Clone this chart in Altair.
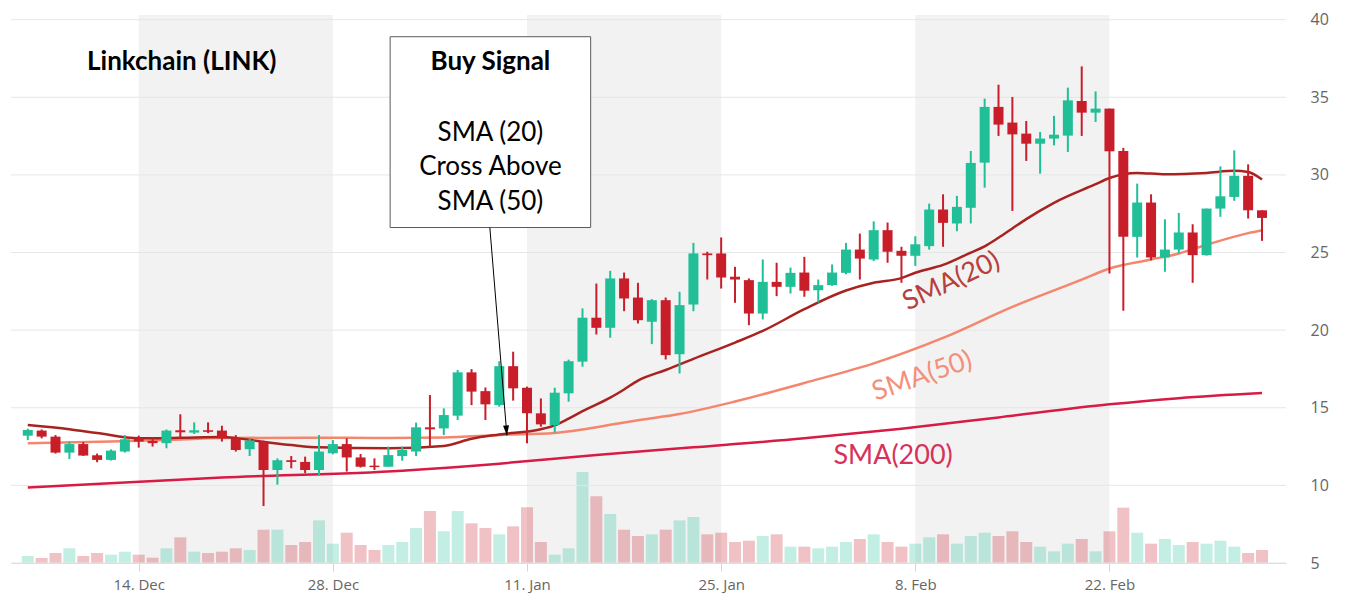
import altair as alt
import pandas as pd

# ---------------- data ----------------
start_date = "2020-12-06"
n_days = 90

opens = [13.20, 13.53, 13.14, 12.11, 12.66, 11.94, 11.64, 12.18, 13.03, 12.87,
         12.72, 13.55, 13.40, 13.55, 13.53, 13.03, 12.33, 12.82, 10.99, 11.62,
         11.51, 10.99, 12.07, 12.66, 11.80, 11.27, 11.20, 11.89, 12.18, 13.74,
         13.67, 14.49, 17.28, 16.07, 15.17, 17.68, 16.29, 14.64, 13.89, 15.93,
         17.97, 20.80, 20.15, 23.33, 22.10, 20.54, 21.93, 18.45, 21.65, 24.94,
         24.94, 23.44, 23.22, 21.07, 23.11, 22.79, 23.71, 22.57, 22.90, 23.69,
         25.19, 24.55, 26.44, 25.11, 24.79, 25.41, 27.77, 26.87, 27.88, 30.79,
         34.38, 33.37, 32.66, 32.01, 32.34, 32.53, 34.76, 34.01, 34.27, 31.54,
         26.01, 28.22, 24.68, 25.19, 26.29, 24.83, 27.83, 28.58, 29.94, 27.72]
highs = [13.65, 13.60, 13.24, 12.82, 12.79, 12.05, 12.32, 13.24, 13.21, 13.11,
         13.60, 14.58, 14.06, 14.06, 13.84, 13.24, 13.00, 12.89, 11.74, 11.89,
         11.85, 13.24, 12.92, 13.03, 12.02, 11.74, 12.50, 12.50, 14.04, 15.82,
         14.96, 17.43, 17.49, 16.31, 18.00, 18.61, 16.36, 15.60, 16.29, 18.10,
         21.40, 23.00, 23.82, 23.71, 23.05, 22.00, 22.10, 22.47, 25.62, 25.05,
         25.97, 24.08, 23.33, 24.55, 24.34, 24.03, 24.72, 23.26, 24.23, 25.62,
         26.22, 27.01, 26.93, 25.37, 26.05, 28.15, 28.75, 28.65, 31.54, 34.91,
         35.81, 35.02, 33.47, 32.77, 33.80, 35.62, 36.99, 35.38, 34.27, 31.74,
         29.44, 28.75, 27.14, 27.55, 26.82, 27.83, 30.55, 31.58, 30.68, 27.72]
lows = [12.92, 13.03, 12.05, 11.70, 11.90, 11.49, 11.60, 12.11, 12.43, 12.50,
        12.39, 13.03, 13.31, 13.37, 12.82, 12.18, 11.89, 8.67, 10.05, 11.10,
        10.78, 10.61, 12.00, 10.89, 11.15, 10.99, 11.20, 11.59, 11.89, 12.50,
        13.24, 14.21, 15.17, 14.21, 15.07, 15.46, 12.71, 13.78, 13.40, 15.39,
        17.64, 19.72, 19.51, 21.22, 20.43, 19.10, 18.11, 17.21, 21.22, 23.26,
        22.68, 21.76, 20.32, 20.69, 22.19, 22.36, 22.15, 21.78, 22.85, 23.60,
        23.26, 24.45, 24.34, 23.05, 24.14, 25.19, 25.37, 26.37, 26.87, 29.18,
        32.51, 27.68, 30.90, 30.08, 31.90, 31.48, 32.51, 33.41, 23.65, 21.25,
        24.68, 24.50, 23.76, 24.94, 23.05, 24.80, 27.30, 28.33, 27.19, 25.75]
closes = [13.57, 13.14, 12.11, 12.66, 11.92, 11.64, 12.24, 12.97, 12.82, 12.72,
          13.53, 13.42, 13.55, 13.45, 13.03, 12.28, 12.89, 10.99, 11.62, 11.51,
          10.99, 12.18, 12.66, 11.80, 11.20, 11.18, 11.95, 12.28, 13.74, 13.61,
          14.53, 17.28, 16.04, 15.22, 17.68, 16.25, 14.64, 13.93, 15.97, 18.00,
          20.80, 20.15, 23.33, 22.04, 20.64, 21.93, 18.39, 21.61, 24.94, 24.83,
          23.39, 23.26, 21.07, 23.11, 22.79, 23.69, 22.54, 22.90, 23.71, 25.19,
          24.61, 26.44, 25.05, 24.79, 25.53, 27.77, 26.91, 27.94, 30.77, 34.38,
          33.24, 32.61, 32.01, 32.34, 32.59, 34.80, 34.01, 34.27, 31.52, 26.01,
          28.22, 24.68, 25.19, 26.29, 24.83, 27.83, 28.62, 29.94, 27.72, 27.23]
volumes = [2.1, 1.5, 3.0, 4.4, 2.1, 3.0, 2.5, 3.4, 2.5, 1.6,
           4.4, 7.7, 3.4, 3.0, 3.4, 4.4, 3.9, 10.0, 10.0, 5.4,
           6.3, 12.8, 5.8, 9.1, 5.4, 3.9, 5.4, 6.3, 10.5, 15.6,
           9.5, 15.6, 11.9, 10.5, 8.6, 11.0, 16.7, 6.3, 2.5, 4.4,
           27.3, 20.0, 14.7, 10.0, 8.1, 8.6, 10.0, 12.8, 13.8, 8.6,
           9.1, 6.3, 6.7, 8.1, 8.6, 4.9, 4.9, 4.4, 4.9, 6.3,
           7.2, 8.6, 6.3, 4.9, 5.8, 7.7, 8.6, 5.8, 8.1, 9.1,
           8.1, 9.5, 6.3, 4.9, 3.5, 5.8, 7.2, 3.5, 9.5, 16.6,
           9.1, 5.8, 7.2, 5.4, 6.3, 5.8, 6.7, 4.9, 3.0, 3.9]

sma20_days = [0, 3, 5, 8, 11, 14, 17, 19, 21, 26, 30, 32, 34, 37, 38, 39, 40, 42, 43, 44,
              46, 48, 51, 53, 56, 59, 61, 63, 64, 66, 68, 69, 70, 71, 72, 74, 77, 78, 80, 82,
              85, 87, 88, 89]
sma20_vals = [13.89, 13.62, 13.37, 13.03, 13.07, 13.12, 12.80, 12.60, 12.45, 12.39,
              12.54, 13.00, 13.28, 13.62, 13.87, 14.30, 14.78, 15.65, 16.18, 16.75,
              17.43, 18.15, 19.20, 19.95, 21.35, 22.55, 23.05, 23.35, 23.70, 24.20,
              25.00, 25.40, 25.95, 26.55, 27.15, 28.20, 29.40, 29.80, 30.13, 30.04,
              30.13, 30.26, 30.19, 29.70]
sma50_days = [0, 6, 10, 14, 20, 26, 30, 34, 38, 40, 42, 44, 47, 51, 56, 61, 66, 71, 76, 78,
              81, 83, 85, 88, 89]
sma50_vals = [12.71, 12.82, 12.92, 13.05, 13.07, 13.05, 13.08, 13.25, 13.38, 13.60,
              13.90, 14.20, 14.60, 15.40, 16.60, 17.86, 19.50, 21.50, 23.25, 23.97,
              24.55, 24.94, 25.50, 26.25, 26.44]
sma200_days = [0, 14, 27, 34, 41, 48, 56, 63, 70, 78, 83, 89]
sma200_vals = [9.87, 10.50, 10.95, 11.40, 11.96, 12.45, 13.03, 13.65, 14.38, 15.22, 15.62, 15.95]

band_starts = ["2020-12-14", "2021-01-11", "2021-02-08"]
band_ends = ["2020-12-28", "2021-01-25", "2021-02-22"]
x_tick_dates = ["2020-12-14", "2020-12-28", "2021-01-11", "2021-01-25", "2021-02-08", "2021-02-22"]
y_ticks = [5, 10, 15, 20, 25, 30, 35, 40]

# ---------------- helpers ----------------
BASE = pd.Timestamp(start_date, tz="UTC")


def ms_day(d):
    return int((BASE + pd.Timedelta(days=d)).timestamp() * 1000)


def ms_str(s):
    return int(pd.Timestamp(s, tz="UTC").timestamp() * 1000)


GREEN = "#20bf97"
RED = "#c81e2a"

candles = pd.DataFrame({
    "t": [ms_day(i) for i in range(n_days)],
    "open": opens, "high": highs, "low": lows, "close": closes, "vol": volumes,
})
candles["dir"] = ["up" if c >= o else "down" for o, c in zip(opens, closes)]

x_scale = alt.Scale(type="utc", domain=[ms_day(-0.849), ms_day(90.37)], nice=False)
x_axis = alt.Axis(values=[ms_str(s) for s in x_tick_dates],
                  labelExpr="utcFormat(datum.value, '%-d. %b')",
                  labelColor="#666666", labelFont="Open Sans", labelFontSize=15,
                  tickColor="#ccd6eb", tickSize=8, domainColor="#ccd6eb", grid=False,
                  title=None, labelPadding=6, labelFlush=False)
y_scale = alt.Scale(domain=[5, 40.3], nice=False, zero=False)
y_axis = alt.Axis(orient="right", values=y_ticks, ticks=False, tickSize=0, domain=False,
                  labelColor="#666666", labelFont="Open Sans", labelFontSize=16,
                  labelPadding=24, grid=False, title=None, labelOffset=0)


def X(field, **kw):
    return alt.X(field, type="temporal", scale=x_scale, axis=x_axis, **kw)


def Y(field):
    return alt.Y(field, type="quantitative", scale=y_scale, axis=y_axis)


color_enc = alt.Color("dir:N", scale=alt.Scale(domain=["up", "down"], range=[GREEN, RED]), legend=None)

# background bands
bands_df = pd.DataFrame({"s": [ms_str(s) for s in band_starts], "e": [ms_str(s) for s in band_ends]})
bands = alt.Chart(bands_df).mark_rect(color="#f2f2f2").encode(x=X("s"), x2="e")

# volume (own scale)
volume = alt.Chart(candles).mark_bar(size=12, opacity=0.27).encode(
    x=X("t"),
    y=alt.Y("vol:Q", scale=alt.Scale(domain=[0, 164.4], nice=False), axis=None),
    color=color_enc,
)

# grid lines
grid_df = pd.DataFrame({"v": y_ticks})
grid = alt.Chart(grid_df).mark_rule(color="#e6e6e6", strokeWidth=1).encode(y=Y("v"))


def sma_layer(days, vals, color):
    df = pd.DataFrame({"t": [ms_day(d) for d in days], "v": vals})
    return alt.Chart(df).mark_line(color=color, strokeWidth=2.5, interpolate="monotone").encode(
        x=X("t"), y=Y("v"))


sma200 = sma_layer(sma200_days, sma200_vals, "#d81b44")
sma50 = sma_layer(sma50_days, sma50_vals, "#f4866e")
sma20 = sma_layer(sma20_days, sma20_vals, "#a8231f")

wicks = alt.Chart(candles).mark_rule(strokeWidth=2).encode(
    x=X("t"), y=Y("low"), y2="high", color=color_enc)
bodies = alt.Chart(candles).mark_bar(size=10).encode(
    x=X("t"), y=Y("open"), y2="close", color=color_enc)

# annotations (positioned in data units)
title_df = pd.DataFrame({"t": [ms_day(11.1)], "v": [37.29], "txt": ["Linkchain (LINK)"]})
title = alt.Chart(title_df).mark_text(font="Lato", fontSize=26, fontWeight="bold", color="black").encode(
    x=X("t"), y=Y("v"), text="txt:N")

box_df = pd.DataFrame({"t1": [ms_day(26.13)], "t2": [ms_day(40.59)], "v1": [26.61], "v2": [38.90]})
box = alt.Chart(box_df).mark_rect(fill="white", stroke="#5a5a5a", strokeWidth=1).encode(
    x=X("t1"), x2="t2", y=Y("v1"), y2="v2")

head_df = pd.DataFrame({"t": [ms_day(33.36)], "v": [37.29], "txt": ["Buy Signal"]})
box_head = alt.Chart(head_df).mark_text(font="Lato", fontSize=26, fontWeight="bold", color="black").encode(
    x=X("t"), y=Y("v"), text="txt:N")
lines_df = pd.DataFrame({"t": [ms_day(33.36)] * 3, "v": [32.72, 30.53, 28.28],
                         "txt": ["SMA (20)", "Cross Above", "SMA (50)"]})
box_lines = alt.Chart(lines_df).mark_text(font="Lato", fontSize=26, color="black").encode(
    x=X("t"), y=Y("v"), text="txt:N")

arrow_df = pd.DataFrame({"t1": [ms_day(33.32)], "t2": [ms_day(34.55)], "v1": [26.61], "v2": [13.22]})
shaft = alt.Chart(arrow_df).mark_rule(color="black", strokeWidth=1).encode(
    x=X("t1"), x2="t2", y=Y("v1"), y2="v2")
tip = alt.Chart(arrow_df).mark_point(shape="M-0.3,-1L0.3,-1L0,0Z", filled=True, color="black",
                                      size=400, opacity=1, angle=355).encode(x=X("t2"), y=Y("v2"))

lab20 = alt.Chart(pd.DataFrame({"t": [ms_day(66.6)], "v": [23.13], "txt": ["SMA(20)"]})).mark_text(
    font="Lato", fontSize=27, color="#b6403b", angle=335).encode(x=X("t"), y=Y("v"), text="txt:N")
lab50 = alt.Chart(pd.DataFrame({"t": [ms_day(64.5)], "v": [17.02], "txt": ["SMA(50)"]})).mark_text(
    font="Lato", fontSize=27, color="#f48f7a", angle=341).encode(x=X("t"), y=Y("v"), text="txt:N")
lab200 = alt.Chart(pd.DataFrame({"t": [ms_day(62.4)], "v": [11.87], "txt": ["SMA(200)"]})).mark_text(
    font="Lato", fontSize=27, color="#d6325a").encode(x=X("t"), y=Y("v"), text="txt:N")

price = alt.layer(grid, sma200, sma50, sma20, wicks, bodies, box, box_head, box_lines,
                  shaft, tip, title, lab20, lab50, lab200)

chart = alt.layer(bands, volume, price).resolve_scale(y="independent").properties(
    width=1275, height=548,
    padding={"left": 2, "top": 3, "right": 6, "bottom": 5},
    background="white",
).configure_view(stroke=None)

chart.save("out.html", embed_options={"renderer": "svg", "actions": False})
